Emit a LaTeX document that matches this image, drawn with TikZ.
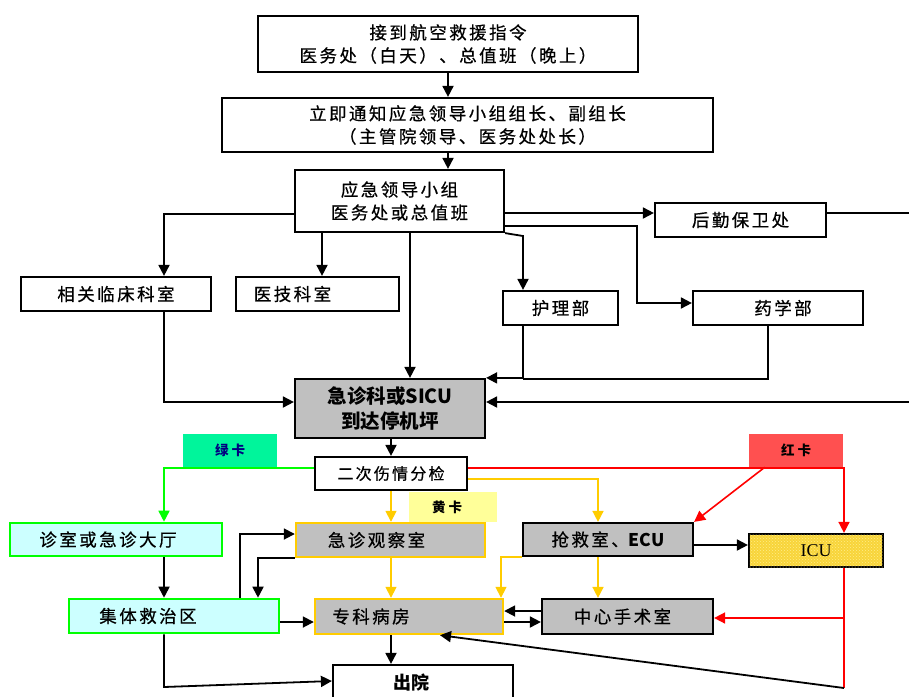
\documentclass[tikz,border=0pt]{standalone}
\usepackage{fontspec}
\setmainfont{Noto Sans CJK SC}
\newfontfamily\cjk{Noto Sans CJK SC}[LetterSpace=14, FakeBold=0.6]
\newfontfamily\cjkn{Noto Sans CJK SC}
\newfontfamily\icufont{Liberation Serif}
\usetikzlibrary{arrows.meta,patterns}
\definecolor{gbox}{HTML}{CCFFFF}
\definecolor{gline}{HTML}{00FF00}
\definecolor{gold}{HTML}{FFCC00}
\definecolor{grayf}{HTML}{C0C0C0}
\definecolor{redl}{HTML}{FF0000}
\definecolor{gcard}{HTML}{00F59B}
\definecolor{ycard}{HTML}{FFFF99}
\definecolor{rcard}{HTML}{FF5050}
\definecolor{icuy}{HTML}{F8D43A}
\definecolor{icul}{HTML}{FFEE88}
\definecolor{navy}{HTML}{000080}
\tikzset{
  box/.style={draw, line width=2.2pt, inner sep=0pt, align=center, fill=white,
    font=\cjk\fontsize{17.5}{23}\selectfont},
  greenbox/.style={box, draw=gline, line width=2.6pt, fill=gbox},
  goldbox/.style={box, draw=gold, line width=2.4pt, fill=grayf},
  graybox/.style={box, fill=grayf},
  card/.style={inner sep=0pt, font=\cjkn\bfseries\fontsize{13.5}{15}\selectfont},
  ln/.style={line width=1.8pt},
  arr/.style={line width=1.8pt, -{Triangle[length=11pt,width=11pt]}},
  garr/.style={line width=1.6pt, color=gline, -{Triangle[length=11pt,width=11pt]}},
  yarr/.style={line width=1.6pt, color=gold, -{Triangle[length=11pt,width=11pt]}},
  rarr/.style={line width=1.6pt, color=redl, -{Triangle[length=11pt,width=11pt]}},
  rln/.style={line width=1.6pt, color=redl},
}
\begin{document}
\begin{tikzpicture}[x=1pt,y=-1pt]
\clip (0,0) rectangle (909,696);
\fill[white] (0,0) rectangle (909,696);
% upper nodes
\node[box,minimum width=380,minimum height=56] (n1) at (448,44) {接到航空救援指令\\医务处（白天）、总值班（晚上）};
\node[box,minimum width=491,minimum height=54] (n2) at (467.5,125) {立即通知应急领导小组组长、副组长\\（主管院领导、医务处处长）};
\node[box,minimum width=209,minimum height=62] (n3) at (399.5,201) {应急领导小组\\医务处或总值班};
\node[box,minimum width=190,minimum height=34] (n4) at (116,294) {相关临床科室};
\node[box,minimum width=163,minimum height=34] (n5) at (317.5,294) {医技科室\hspace*{50pt}};
\node[box,minimum width=115,minimum height=34] (n6) at (560.5,308) {护理部};
\node[box,minimum width=170,minimum height=34] (n7) at (778,308) {\hspace*{10pt}药学部};
\node[box,minimum width=171,minimum height=34] (n8) at (740.5,220) {后勤保卫处};
\node[graybox,minimum width=190,minimum height=59,font=\cjkn\bfseries\fontsize{19.5}{25}\selectfont] (n9) at (390,408.5) {急诊科或SICU\\到达停机坪};
\coordinate (rE1) at (915,213);
\coordinate (rE2) at (915,402);
% upper edges
\draw[arr] (n1.south) -- (n1.south |- n2.north);
\draw[arr] (n1.south |- n2.south) -- (n1.south |- n3.north);
\draw[arr] (n3.west |- 0,214) -| (n4.north -| 164,0);
\draw[arr] (n3.south -| 322,0) -- (n5.north -| 322,0);
\draw[arr] (n3.south -| 410,0) -- (n9.north -| 410,0);
\draw[arr] (n3.east |- 0,213) -- (n8.west |- 0,213);
\draw[arr] (n3.east |- 0,226) -| (637,303) -- (n7.west |- 0,303);
\draw[arr] (n3.south east) -- (523,236) -- (n6.north -| 523,0);
\draw[ln] (n8.east |- 0,213) -- (rE1);
\draw[arr] (n4.south -| 164,0) |- (n9.west |- 0,402);
\draw[ln] (n7.south -| 768,0) |- (523,379);
\draw[arr] (n6.south -| 523,0) |- (n9.north east);
\draw[arr] (rE2) -- (n9.east |- rE2);
% lower nodes
\node[card,fill=gcard,minimum width=94,minimum height=33,text=navy] (gk) at (230,450.5) {绿\hspace{3pt}卡};
\node[card,fill=ycard,minimum width=88,minimum height=30] (yk) at (453,507) {黄\hspace{3pt}卡\hspace*{12pt}};
\node[card,fill=rcard,minimum width=94,minimum height=33] (rk) at (796,450.5) {红\hspace{3pt}卡};
\node[box,minimum width=152,minimum height=33,font=\cjk\fontsize{16}{20}\selectfont] (n10) at (391,473.5) {二次伤情分检};
\node[greenbox,minimum width=212,minimum height=33] (n14) at (116,539.5) {诊室或急诊大厅\hspace*{16pt}};
\node[greenbox,minimum width=210,minimum height=34] (n15) at (174,616) {集体救治区\hspace*{52pt}};
\node[goldbox,minimum width=189,minimum height=34] (n16) at (390.5,540) {急诊观察室\hspace*{28pt}};
\node[goldbox,minimum width=188,minimum height=35] (n17) at (409,616.5) {专科病房\hspace*{76pt}};
\node[graybox,minimum width=170,minimum height=33] (n18) at (608,539.5) {抢救室、{\cjkn\bfseries ECU}};
\node[graybox,minimum width=171,minimum height=35] (n19) at (627.5,616.5) {中心手术室\hspace*{10pt}};
\node[box,fill=icuy,postaction={pattern=crosshatch dots,pattern color=icul},minimum width=134,minimum height=33,font=\icufont\fontsize{18}{20}\selectfont] (n20) at (816,550.5) {ICU};
\node[box,minimum width=180,minimum height=44,font=\cjkn\bfseries\fontsize{18}{20}\selectfont,text depth=10pt] (n21) at (423,687) {\hspace*{-24pt}出院};
% lower edges
\draw[arr] (n9.south -| 391,0) -- (n10.north -| 391,0);
\draw[garr] (n10.west |- 0,468) -| (n14.north -| 164,0);
\draw[arr] (n14.south -| 164,0) -- (n15.north -| 164,0);
\draw[yarr] (n10.south -| 391,0) -- (n16.north -| 391,0);
\draw[yarr] (n10.east |- 0,479) -| (n18.north -| 598,0);
\draw[yarr] (n16.south -| 391,0) -- (n17.north -| 391,0);
\draw[yarr] (n18.south west) -| (n17.north -| 501,0);
\draw[yarr] (n18.south -| 598,0) -- (n19.north -| 598,0);
\coordinate (rkc) at ([xshift=16pt]rk.south west);
\coordinate (rb) at (844,688);
\draw[rarr] (n10.east |- 0,468) -| (n20.north -| 844,0);
\draw[rarr] (rkc) -- (n18.north east);
\draw[rln] (n20.south -| 844,0) -- (rb);
\draw[rarr] (844,618) -- (n19.east |- 0,618);
\draw[arr] (rb) -- (n17.south -| 440,0);
\draw[arr] (n18.east |- 0,545) -- (n20.west |- 0,545);
\draw[arr] (n19.west |- 0,611) -- (n17.east |- 0,611);
\draw[arr] (n17.east |- 0,622) -- (n19.west |- 0,622);
\draw[arr] (n15.east |- 0,622) -- (n17.west |- 0,622);
\draw[arr] (n15.north -| 240,0) |- (n16.west |- 0,534);
\draw[arr] (n16.south west) -| (n15.north -| 258,0);
\draw[arr] (n15.south -| 164,0) -- (164,687) -- (n21.west |- 0,681);
\draw[arr] (n17.south -| 391,0) -- (n21.north -| 391,0);
\end{tikzpicture}
\end{document}
